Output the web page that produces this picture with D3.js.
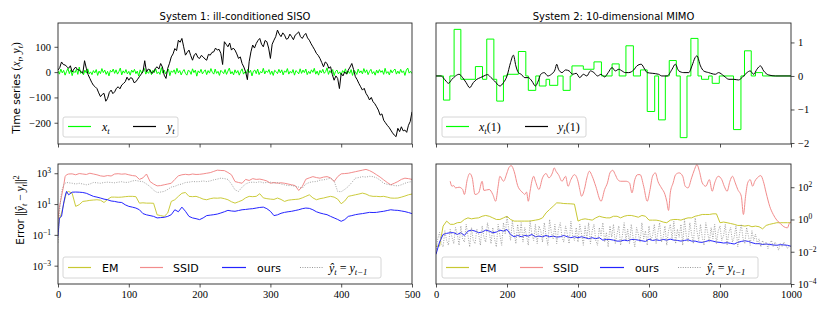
<!DOCTYPE html>
<html><head><meta charset="utf-8">
<script src="https://cdn.jsdelivr.net/npm/d3@7"></script>
<style>body{margin:0;background:#fff} svg{display:block}</style>
</head><body>
<svg id="c" width="830" height="312"></svg>
<script>
// ---------------- DATA ----------------
// System 1 (SISO), input x_t sampled every 2 steps
const sisoXStep = 2;
const sisoX = [
5,-8,12,-3,7,-12,2,15,-6,9,-14,4,-2,11,-9,20,-5,3,-11,8,-4,13,-7,1,-10,
6,-3,10,-13,4,-6,14,-2,8,-9,3,-15,7,0,12,-5,9,-8,2,16,-11,5,-4,10,-7,
3,-12,8,-1,11,-6,4,-16,9,-3,6,14,-8,2,-5,10,-10,7,-2,13,-6,1,-9,18,-4,
8,-7,3,12,-14,5,-1,9,-8,15,-3,6,-11,2,10,-5,-12,7,4,-9,13,-2,8,-16,5,
-3,11,-7,2,9,-10,6,-4,14,-1,-8,12,-5,3,-13,7,1,-6,10,-9,4,16,-7,2,-11,
9,-4,6,-12,3,13,-8,1,-5,11,-2,7,-15,4,8,-6,12,-10,2,-3,15,-7,5,-1,10,
-9,4,-13,7,2,-6,11,-3,9,-11,5,-1,14,-8,3,-4,10,-12,6,1,-7,13,-5,8,-2,
12,-10,3,-6,9,-1,15,-8,4,-12,7,-3,11,-5,2,17,-9,6,-4,10,-14,3,8,-7,1,
-11,6,-2,13,-8,4,-5,10,-13,7,1,-9,12,-3,5,-7,14,-2,9,-10,3,11,-6,2,-12,
8,-4,10,-1,6,-9,15,-5,2,-11,9,-3,7,12,-8,4,-6,11,-2,5,-13,8,16,-4,3,
-6];
// System 1 output y_t sampled every 2.5 steps
const sisoYStep = 2.5;
const sisoY = [
8,18,40,30,28,22,15,25,0,12,20,10,8,2,-5,45,15,-10,-25,-40,
-52,-58,-65,-82,-97,-88,-84,-115,-104,-80,-71,-85,-78,-64,-58,-66,-51,-45,-38,-20,
-32,-22,-25,-42,-38,-28,-18,-8,1,45,1,12,8,-5,0,15,21,12,34,20,
-12,-25,15,35,60,72,93,85,126,118,133,100,67,78,87,65,47,68,74,58,
54,66,60,52,47,70,67,78,80,95,87,90,74,30,120,110,100,115,87,95,
87,72,54,60,34,20,1,-30,41,80,107,95,113,125,133,110,100,125,120,95,
54,110,126,140,166,150,140,155,146,130,133,150,140,128,146,152,159,140,133,145,
153,135,126,112,100,88,74,66,54,38,21,40,34,15,21,-10,-32,-15,-25,-65,
-5,-15,1,-8,8,20,34,10,-18,-30,-45,-58,-71,-64,-84,-95,-110,-100,-117,-125,
-137,-150,-170,-165,-190,-200,-210,-218,-229,-240,-249,-255,-222,-235,-216,-232,-229,-238,-210,-195,
-157];

// System 2 (MIMO): input x_t(1) piecewise constant [start t, value]
const mimoX = [[0,0],[21,-0.72],[39,0],[51,1.39],[70,-0.1],[111,0.28],[131,-0.1],[143,1.1],[163,-0.1],[171,-0.75],
[190,0],[200,0.05],[232,0.73],[253,0],[260,-0.43],[281,0],[291,-0.3],[310,-0.1],[320,-0.28],[343,0],
[358,-0.43],[378,0],[383,0.3],[415,0.2],[445,0.42],[466,0],[496,0.36],[516,0],[535,0.9],[556,0],
[576,0.18],[595,-1.06],[616,0],[627,-1.31],[646,0],[657,0.46],[677,0],[688,-1.84],[707,0],[718,1.12],
[738,0],[748,-0.1],[768,0],[778,-0.22],[798,0],[838,-1.6],[859,0],[869,0.75],[888,0],[900,0.1],[920,0],[1000,0]];
// System 2 output y_t(1) [t, value]
const mimoY = [[0,0],[15,0],[20,-0.05],[28,-0.15],[35,-0.22],[45,-0.1],[55,0],[65,0.05],[75,-0.05],[85,-0.2],
[95,-0.35],[105,-0.2],[115,-0.1],[125,-0.05],[135,0],[145,0.04],[155,-0.05],[165,-0.15],[180,-0.3],[190,-0.2],
[200,0],[210,0.4],[218,0.62],[225,0.3],[232,0.1],[240,0.05],[250,-0.05],[260,-0.05],[270,-0.15],[280,-0.3],
[288,-0.15],[295,0.05],[305,0.1],[315,0],[325,0.05],[335,0.18],[340,0.35],[345,0.2],[355,0.1],[365,0.18],
[375,0.15],[385,0.05],[395,0.08],[405,-0.05],[415,0.05],[425,0],[435,0.15],[445,0.1],[455,0],[465,0.05],
[475,-0.03],[485,0.1],[496,0.25],[505,0.15],[515,0.2],[524,0.15],[533,0.1],[543,0.1],[557,0.18],[566,0.3],
[578,0.35],[588,0.2],[595,0.1],[609,0.08],[627,0.05],[636,0],[651,0],[665,0.2],[674,0.35],[684,0.15],
[698,0.1],[712,0.1],[721,0.3],[730,0.55],[735,0.6],[745,0.3],[754,0.15],[768,0.1],[787,0.05],[796,0.1],
[811,0],[825,-0.1],[839,-0.1],[852,-0.12],[862,-0.05],[876,0.1],[885,0.15],[895,0.05],[904,0.2],[914,0.3],
[923,0.15],[937,0.03],[956,0],[1000,0]];

// Errors, System 1 (log10 of error), times: 0,2,5,8,10,12,15 then every 5 from 20
const errTimesHead1 = [0,2,5,8,10,12,15];
const emLeftLog10 = [-0.5,0.0,0.42,1.0,1.39,1.75,1.82,
1.7,0.85,0.96,1.17,1.2,1.24,1.26,1.28,1.25,1.1,
1.3,1.45,1.45,1.44,1.45,1.48,1.5,1.5,1.48,1.06,
1.08,1.06,1.06,1.05,0.3,0.25,0.2,0.42,1.17,1.28,
1.5,1.7,1.75,1.5,1.48,1.5,1.42,1.32,1.28,1.35,
1.39,1.38,1.4,1.35,1.28,1.15,1.06,1.15,1.24,1.4,
1.5,1.48,1.5,1.67,1.4,1.35,1.32,1.3,1.39,1.3,
1.17,1.25,1.28,1.3,1.32,1.4,1.5,1.6,1.4,1.28,
1.35,1.39,1.45,1.5,1.45,1.32,1.02,1.2,1.5,1.55,
1.6,1.65,1.71,1.65,1.54,1.5,1.5,1.48,1.5,1.45,
1.39,1.38,1.39,1.45,1.52,1.6,1.65];
const ssidLeftLog10 = [0.0,0.8,1.5,2.2,2.78,2.9,2.95,
2.96,2.9,2.98,2.95,2.92,3.0,2.95,2.9,2.83,2.8,
2.85,2.82,2.95,2.97,2.94,2.96,2.9,2.85,2.82,2.6,
2.7,2.95,2.46,2.3,2.18,2.2,2.25,2.3,2.35,2.6,
2.83,2.9,2.93,2.9,2.95,2.92,2.93,2.96,3.0,3.04,
3.12,3.2,3.18,3.17,3.05,2.9,2.46,2.4,2.35,2.6,
2.53,2.65,2.6,2.62,2.57,2.5,2.35,2.4,2.35,2.38,
2.35,2.3,2.25,2.2,1.88,2.14,2.61,2.7,2.78,2.72,
2.68,2.75,2.78,2.7,2.46,2.78,2.96,2.98,3.0,3.05,
3.1,3.15,3.2,3.25,3.17,3.05,2.9,2.75,2.57,2.4,
2.25,2.35,2.46,2.6,2.68,2.65,2.6];
const oursLeftLog10 = [-1.1,0.1,0.2,1.06,1.5,1.82,1.6,
1.77,1.78,1.77,1.75,1.7,1.6,1.5,1.45,1.39,1.32,
1.28,1.2,1.17,1.12,1.1,0.95,0.85,0.8,0.74,0.63,
0.38,0.3,0.25,0.2,0.1,0.12,0.14,0.2,0.31,0.63,
0.5,0.8,0.53,0.2,0.1,0.05,-0.01,0.1,0.25,0.28,
0.31,0.35,0.42,0.5,0.59,0.55,0.53,0.58,0.63,0.65,
0.68,0.7,0.74,0.78,0.8,0.7,0.53,0.25,0.3,0.4,
0.46,0.5,0.53,0.58,0.63,0.7,0.74,0.72,0.63,0.5,
0.42,0.36,0.31,0.2,0.1,0.0,-0.12,-0.01,0.2,0.25,
0.31,0.35,0.38,0.42,0.46,0.45,0.46,0.5,0.53,0.58,
0.63,0.6,0.59,0.55,0.51,0.45,0.38];
const naiveLeftLog10 = [-1.5,0.5,1.8,2.25,2.35,2.4,2.38,
2.35,2.3,2.35,2.3,2.25,2.3,2.4,2.38,2.35,2.4,
2.42,2.4,2.38,2.42,2.45,2.4,2.42,2.5,2.53,2.48,
2.45,2.3,2.14,1.9,1.75,1.78,1.82,1.95,2.1,2.15,
2.25,2.3,2.4,2.42,2.46,2.45,2.46,2.5,2.46,2.5,
2.57,2.62,2.68,2.65,2.6,2.3,1.92,1.82,2.1,2.3,
2.4,2.42,2.4,2.45,2.38,2.4,2.42,2.35,2.4,2.3,
2.25,2.2,2.2,2.15,2.1,2.03,2.3,2.4,2.45,2.46,
2.55,2.57,2.62,2.68,2.5,1.82,1.8,1.95,2.14,2.4,
2.68,2.72,2.78,2.75,2.8,2.78,2.7,2.55,2.35,2.28,
2.25,2.2,2.18,2.25,2.35,2.42,2.46];

// Errors, System 2 (log10), every 10 steps
const errStep2 = 10;
const emRightLog10 = [
-1.65,-1.65,-0.41,-0.1,-0.3,-0.3,-0.2,-0.18,0,0.1,
0.04,0.08,0.1,0.2,0.25,0.2,0.1,0,0,0.1,
0.2,0,-0.1,-0.1,-0.1,-0.1,-0.1,-0.08,-0.04,0,
0.1,0.41,0.62,0.82,1.03,1.02,0.99,0.98,0.97,0.95,
-0.1,0,0.04,0,-0.04,0.1,0.2,0.14,0.1,0.1,
0.2,0.2,0.1,0.2,0.25,0.25,0.2,0.14,0.25,0.2,
-0.04,-0.04,-0.04,-0.08,-0.16,-0.2,-0.04,0,0,-0.04,
0.04,0.1,0.1,0.2,0.25,0.31,0.31,0.31,0.35,0.35,
-0.2,-0.16,-0.2,-0.25,-0.3,-0.37,-0.37,-0.41,-0.37,-0.45,
-0.41,-0.45,-0.58,-0.37,-0.3,-0.25,-0.2,-0.2,-0.2,-0.2,
-0.2];
const oursRightLog10 = [
-2.16,-1.4,-0.93,-0.86,-0.82,-0.82,-0.93,-0.82,-0.99,-0.72,
-0.66,-0.72,-0.82,-0.78,-0.66,-0.72,-0.82,-0.78,-0.66,-0.72,
-0.62,-0.93,-1.07,-0.99,-1.07,-0.99,-1.03,-0.93,-1.07,-1.03,
-1.07,-0.99,-1.07,-1.03,-1.09,-1.07,-0.99,-1.07,-1.13,-1.07,
-1.13,-1.07,-1.13,-1.19,-1.13,-1.19,-1.13,-1.28,-1.24,-1.24,
-1.28,-1.34,-1.34,-1.28,-1.32,-1.24,-1.24,-1.28,-1.32,-1.36,
-1.22,-1.3,-1.26,-1.3,-1.24,-1.28,-1.22,-1.28,-1.3,-1.34,
-1.3,-1.26,-1.34,-1.34,-1.4,-1.42,-1.36,-1.3,-1.34,-1.4,
-1.42,-1.46,-1.44,-1.48,-1.52,-1.42,-1.36,-1.32,-1.36,-1.44,
-1.5,-1.5,-1.55,-1.52,-1.55,-1.58,-1.6,-1.56,-1.58,-1.6,
-1.66];
const naiveStep2 = 5;
const naiveRightLog10 = [
-2.0,-1.2,-0.8,-1.5,-1.7,-0.7,-1.3,-1.6,-0.6,-1.1,-1.5,-0.5,-0.9,-1.6,-0.4,-1.2,-1.4,-0.3,-1.0,-1.7,
-0.5,-1.3,-1.5,-0.6,-0.9,-1.6,-0.4,-1.1,-1.4,-0.2,-0.8,-1.5,-0.5,-1.2,-1.7,-0.3,-1.0,-1.6,-0.2,-0.9,
0.2,-0.6,-1.3,-0.1,-0.8,-1.5,-0.3,-1.1,-0.2,-1.4,-0.5,-1.0,-1.6,-0.1,-0.9,-1.3,-0.3,-1.5,-0.4,-0.7,
-1.4,-0.2,-1.0,-1.6,0.0,-0.8,-1.2,-0.3,-1.5,-0.6,-0.2,-1.1,-1.4,-0.4,-0.9,-1.5,-0.1,-1.0,-1.3,-0.5,
-1.4,-0.3,-0.9,-1.6,-0.4,-1.2,-0.2,-1.5,-0.7,-0.3,-1.3,-1.6,-0.5,-1.0,-0.2,-1.4,-0.8,-1.7,-0.4,-1.1,
-0.3,-1.5,-0.9,-0.4,-1.6,-1.0,-0.2,-1.3,-0.6,-1.5,-0.3,-1.1,-1.7,-0.5,-0.9,-1.4,-0.2,-1.2,-0.7,-1.6,
-0.4,-1.3,-1.0,-0.3,-1.5,-0.8,-0.2,-1.4,-1.1,-0.4,-1.6,-0.7,-0.3,-1.2,-0.1,-1.5,-0.6,-1.1,-0.3,-1.6,
0.0,-1.0,-1.4,-0.2,-0.9,-1.5,0.1,-0.7,-1.3,-0.3,-1.1,-1.6,-0.2,-0.8,-1.4,-0.5,-1.2,-0.3,-1.5,-0.7,
-0.4,-1.3,-1.0,-0.3,-1.6,-0.8,-0.5,-1.4,-1.1,-0.4,-1.7,-0.9,-0.3,-1.2,-1.5,-0.5,-1.0,-1.6,-0.7,-1.3,
-0.9,-1.5,-1.2,-1.7,-1.3,-1.6,-1.4,-1.8,-1.5,-1.3,-1.7,-1.4,-1.6,-1.9,-1.5,-1.7,-1.4,-1.6,-1.8,-1.6,
-1.7];
// SSID, System 2: [t, log10 error]
const ssidRightLog10 = [[40,2.37],[45,2.06],[50,2.1],[55,1.96],[65,2.0],[75,1.86],[80,1.55],[88,2.47],[95,2.85],[102,2.58],
[110,1.55],[120,1.65],[130,2.37],[135,1.8],[150,1.86],[160,1.55],[168,1.13],[175,2.06],[180,2.68],[190,2.37],
[200,2.89],[205,3.2],[212,3.34],[220,2.99],[230,2.1],[240,1.75],[245,1.65],[250,1.55],[255,1.7],[260,1.13],
[265,1.75],[270,2.37],[275,2.68],[280,2.37],[290,1.86],[300,2.58],[310,2.85],[318,2.58],[328,2.89],[333,3.2],
[338,2.99],[345,2.78],[355,2.37],[365,2.68],[372,2.06],[380,2.47],[390,2.78],[400,2.37],[405,1.86],[410,1.44],
[418,1.86],[425,2.58],[432,2.99],[440,2.68],[450,2.06],[465,1.13],[475,1.86],[483,2.27],[490,2.89],[498,3.05],
[505,2.78],[512,2.47],[520,2.37],[535,2.37],[545,2.27],[552,1.65],[560,2.47],[568,2.78],[575,2.78],[585,2.06],
[595,1.13],[603,1.86],[610,2.68],[618,2.89],[625,2.37],[635,1.96],[645,1.55],[650,1.13],[655,0.56],[660,1.65],
[668,2.27],[675,2.78],[685,2.89],[695,2.68],[702,2.06],[710,1.96],[720,2.58],[728,3.09],[735,3.4],[742,2.99],
[750,2.27],[760,2.06],[770,2.47],[778,1.75],[785,2.27],[795,2.68],[805,2.47],[812,2.06],[820,1.75],[828,2.37],
[835,2.68],[843,2.27],[850,1.86],[860,1.44],[866,0.31],[872,1.44],[878,2.27],[885,2.47],[892,2.06],[898,2.37],
[905,2.58],[915,2.72],[922,2.37],[930,1.65],[940,0.82],[950,0.31],[960,-0.04],[970,-0.25],[980,-0.45],[985,-0.5],
[990,-0.52],[995,-0.25],[1000,-0.15]];

const ticksTL = [-200,-100,0,100];
const ticksTR = [-2,-1,0,1];
const ticksBLexp = [-3,-1,1,3];
const ticksBRexp = [-4,-2,0,2];
const xTicksL = [0,100,200,300,400,500];
const xTicksR = [0,200,400,600,800,1000];

// ---------------- DRAWING ----------------
const SANS = "'DejaVu Sans', sans-serif";
const SERIF = "'Liberation Serif', 'DejaVu Serif', serif";
const C = {green:'#00ff00', black:'#000000', em:'#c8c832', ssid:'#f28c8c', ours:'#2424ff', naive:'#8c8c8c', axis:'#262626'};
const svg = d3.select('#c');
const P = {L:[58,412], R:[436,791], T:[23,144], B:[164,284]};

const xL = d3.scaleLinear().domain([0,500]).range(P.L);
const xR = d3.scaleLinear().domain([0,1000]).range(P.R);
const yTL = d3.scaleLinear().domain([-284,194]).range([P.T[1],P.T[0]]);
const yTR = d3.scaleLinear().domain([-2.03,1.58]).range([P.T[1],P.T[0]]);
const yBL = d3.scaleLog().domain([Math.pow(10,-4.19),Math.pow(10,3.6)]).range([P.B[1],P.B[0]]);
const yBR = d3.scaleLog().domain([1e-4,Math.pow(10,3.44)]).range([P.B[1],P.B[0]]);

const defs = svg.append('defs');
function clip(id,xr,yr){defs.append('clipPath').attr('id',id).append('rect').attr('x',xr[0]).attr('y',yr[0]).attr('width',xr[1]-xr[0]).attr('height',yr[1]-yr[0]);}
clip('cTL',P.L,P.T);clip('cTR',P.R,P.T);clip('cBL',P.L,P.B);clip('cBR',P.R,P.B);

function rich(text, segs, size){
  let shift=0;
  segs.forEach(s=>{
    const ts=text.append('tspan').text(s.t);
    const target = s.sub? size*0.28 : (s.sup? -size*0.42 : 0);
    ts.attr('dy', target-shift); shift=target;
    if(s.sub||s.sup) ts.attr('font-size', size*0.72);
    if(s.it) ts.attr('font-style','italic');
    ts.attr('font-family', s.f || SERIF);
    if(s.fs) ts.attr('font-size', s.fs);
  });
}

function path(g, data, line, color, w, extra){
  const p = g.append('path').datum(data).attr('d',line).attr('fill','none').attr('stroke',color).attr('stroke-width',w).attr('stroke-linejoin','round');
  if(extra) extra(p);
  return p;
}

// --- Top-left: SISO time series
const gTL = svg.append('g').attr('clip-path','url(#cTL)');
path(gTL, sisoX, d3.line().x((d,i)=>xL(i*sisoXStep)).y(d=>yTL(d)), C.green, 1);
path(gTL, sisoY, d3.line().x((d,i)=>xL(i*sisoYStep)).y(d=>yTL(d)), C.black, 1);

// --- Top-right: MIMO time series
const gTR = svg.append('g').attr('clip-path','url(#cTR)');
path(gTR, mimoX, d3.line().curve(d3.curveStepAfter).x(d=>xR(d[0])).y(d=>yTR(d[1])), C.green, 1);
path(gTR, mimoY, d3.line().curve(d3.curveMonotoneX).x(d=>xR(d[0])).y(d=>yTR(d[1])), C.black, 1);

// --- Bottom-left: errors SISO
const tL = errTimesHead1.concat(d3.range(20,501,5));
const gBL = svg.append('g').attr('clip-path','url(#cBL)');
const lineBL = d3.line().x((d,i)=>xL(tL[i])).y(d=>yBL(Math.pow(10,d)));
path(gBL, emLeftLog10, lineBL, C.em, 1, p=>p.attr('stroke-opacity',0.95));
path(gBL, ssidLeftLog10, lineBL, C.ssid, 1);
path(gBL, oursLeftLog10, lineBL, C.ours, 1);
path(gBL, naiveLeftLog10, lineBL, C.naive, 0.8, p=>p.attr('stroke-dasharray','1,1.4'));

// --- Bottom-right: errors MIMO
const gBR = svg.append('g').attr('clip-path','url(#cBR)');
path(gBR, emRightLog10, d3.line().x((d,i)=>xR(i*errStep2)).y(d=>yBR(Math.pow(10,d))), C.em, 1);
path(gBR, ssidRightLog10, d3.line().curve(d3.curveMonotoneX).x(d=>xR(d[0])).y(d=>yBR(Math.pow(10,d[1]))), C.ssid, 1);
path(gBR, oursRightLog10, d3.line().x((d,i)=>xR(i*errStep2)).y(d=>yBR(Math.pow(10,d))), C.ours, 1);
path(gBR, naiveRightLog10, d3.line().x((d,i)=>xR(i*naiveStep2)).y(d=>yBR(Math.pow(10,d))), C.naive, 0.8, p=>p.attr('stroke-dasharray','1,1.4'));

// --- Axes
function styleAxis(g){
  g.select('.domain').remove();
  g.selectAll('.tick line').attr('stroke',C.axis).attr('stroke-width',0.8);
  g.selectAll('.tick text').attr('font-family',SERIF).attr('font-size',10.5).attr('fill','#000');
}
const fmtMinus = d => (d<0? '\u2212'+Math.abs(d) : ''+d);
function xAxis(scale, y, ticks, labels){
  const g = svg.append('g').attr('transform',`translate(0,${y})`)
    .call(d3.axisBottom(scale).tickValues(ticks).tickSize(3.5).tickPadding(3.5).tickFormat(labels? fmtMinus : ()=>''));
  styleAxis(g);
}
function yAxisLin(scale, x, ticks, right){
  const ax = (right? d3.axisRight(scale) : d3.axisLeft(scale)).tickValues(ticks).tickSize(3.5).tickPadding(3.5).tickFormat(fmtMinus);
  const g = svg.append('g').attr('transform',`translate(${x},0)`).call(ax);
  styleAxis(g);
}
function yAxisLog(scale, x, exps, right){
  const ax = (right? d3.axisRight(scale) : d3.axisLeft(scale)).tickValues(exps.map(e=>Math.pow(10,e))).tickSize(3.5).tickPadding(3.5).tickFormat(()=>'');
  const g = svg.append('g').attr('transform',`translate(${x},0)`).call(ax);
  styleAxis(g);
  g.selectAll('.tick text').each(function(d,i){
    const t = d3.select(this);
    t.append('tspan').text('10');
    t.append('tspan').attr('dy',-4).attr('font-size',7.5).text(fmtMinus(exps[i]));
  });
}
xAxis(xL, P.T[1], xTicksL, false);
xAxis(xR, P.T[1], xTicksR, false);
xAxis(xL, P.B[1], xTicksL, true);
xAxis(xR, P.B[1], xTicksR, true);
yAxisLin(yTL, P.L[0], ticksTL, false);
yAxisLin(yTR, P.R[1], ticksTR, true);
yAxisLog(yBL, P.L[0], ticksBLexp, false);
yAxisLog(yBR, P.R[1], ticksBRexp, true);

// frames
[[P.L,P.T],[P.R,P.T],[P.L,P.B],[P.R,P.B]].forEach(([xr,yr])=>{
  svg.append('rect').attr('x',xr[0]).attr('y',yr[0]).attr('width',xr[1]-xr[0]).attr('height',yr[1]-yr[0])
    .attr('fill','none').attr('stroke',C.axis).attr('stroke-width',0.9);
});

// titles
svg.append('text').attr('x',(P.L[0]+P.L[1])/2).attr('y',20).attr('text-anchor','middle')
  .attr('font-family',SANS).attr('font-size',10).text('System 1: ill-conditioned SISO');
svg.append('text').attr('x',(P.R[0]+P.R[1])/2).attr('y',20).attr('text-anchor','middle')
  .attr('font-family',SANS).attr('font-size',10).text('System 2: 10-dimensional MIMO');

// y labels
const yl1 = svg.append('text').attr('transform','translate(19.5,88) rotate(-90)').attr('text-anchor','middle').attr('font-size',11.5);
rich(yl1, [{t:'Time series ', f:SANS, fs:10.5},{t:'('},{t:'x',it:1},{t:'t',it:1,sub:1},{t:', '},{t:'y',it:1},{t:'t',it:1,sub:1},{t:')'}], 11.5);
const yl2 = svg.append('text').attr('transform','translate(24,210) rotate(-90)').attr('text-anchor','middle').attr('font-size',11.5);
rich(yl2, [{t:'Error ', f:SANS, fs:10.5},{t:'||'},{t:'\u0177',it:1},{t:'t',it:1,sub:1},{t:' \u2212 '},{t:'y',it:1},{t:'t',it:1,sub:1},{t:'||'},{t:'2',sup:1}], 11.5);

// legends
function legend(box, cy, items){
  svg.append('rect').attr('x',box[0]).attr('y',box[1]).attr('width',box[2]).attr('height',box[3]).attr('rx',2)
    .attr('fill','#fff').attr('fill-opacity',0.8).attr('stroke','#cccccc').attr('stroke-width',0.8);
  items.forEach(it=>{
    const l = svg.append('line').attr('x1',it.x1).attr('x2',it.x2).attr('y1',cy).attr('y2',cy).attr('stroke',it.color).attr('stroke-width',it.w||1.2);
    if(it.dash) l.attr('stroke-dasharray',it.dash);
    const t = svg.append('text').attr('x',it.lx).attr('y',cy+4).attr('font-size',12);
    rich(t, it.segs, 12);
  });
}
legend([63,117,115,20], 126.5, [
  {x1:68,x2:91,color:C.green,lx:102,segs:[{t:'x',it:1},{t:'t',it:1,sub:1}]},
  {x1:133,x2:156,color:C.black,lx:167,segs:[{t:'y',it:1},{t:'t',it:1,sub:1}]}
]);
legend([442,117,144,20], 126.5, [
  {x1:446,x2:469,color:C.green,lx:479,segs:[{t:'x',it:1},{t:'t',it:1,sub:1},{t:'(1)'}]},
  {x1:525,x2:548,color:C.black,lx:558,segs:[{t:'y',it:1},{t:'t',it:1,sub:1},{t:'(1)'}]}
]);
const errItems = (xs)=>[
  {x1:xs[0],x2:xs[0]+23,color:C.em,lx:xs[0]+34,segs:[{t:'EM',f:SANS,fs:11}]},
  {x1:xs[1],x2:xs[1]+23,color:C.ssid,lx:xs[1]+33,segs:[{t:'SSID',f:SANS,fs:11}]},
  {x1:xs[2],x2:xs[2]+24,color:C.ours,lx:xs[2]+35,segs:[{t:'ours',f:SANS,fs:11}]},
  {x1:xs[3],x2:xs[3]+23,color:C.naive,w:0.9,dash:'1,1.4',lx:xs[3]+29,segs:[{t:'\u0177',it:1},{t:'t',it:1,sub:1},{t:' = '},{t:'y',it:1},{t:'t\u22121',it:1,sub:1}]}
];
legend([63,257,318,21], 267.5, errItems([68,140,222,300]));
legend([442,257,316,21], 267.5, errItems([446,520,600,678]));
</script>
</body></html>
